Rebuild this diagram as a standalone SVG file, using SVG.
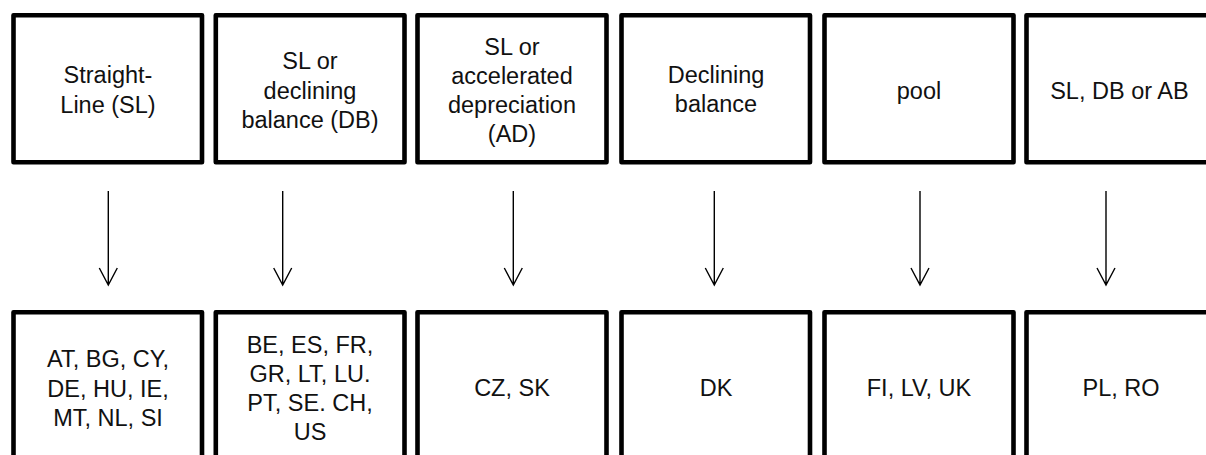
<svg xmlns="http://www.w3.org/2000/svg" width="1206" height="455" viewBox="0 0 1206 455">
<style>
.box{fill:#fff;stroke:#000;stroke-width:4.6;stroke-linejoin:round}
.t{font-family:"Liberation Sans",Arial,sans-serif;font-size:23.5px;fill:#111;text-anchor:middle}
.c{stroke:#000;stroke-width:1.4;fill:none}
</style>
<rect width="1206" height="455" fill="#fff"/>
<g id="top1"><rect class="box" x="13.5" y="15.3" width="188.5" height="147"/><text class="t" x="108" y="83.3">Straight-</text><text class="t" x="108" y="113.3">Line (SL)</text></g>
<g id="top2"><rect class="box" x="215.8" y="15.3" width="188.7" height="147"/><text class="t" x="310" y="69.3">SL or</text><text class="t" x="310" y="99">declining</text><text class="t" x="310" y="128.3">balance (DB)</text></g>
<g id="top3"><rect class="box" x="417.5" y="15.3" width="189" height="147"/><text class="t" x="512" y="55">SL or</text><text class="t" x="512" y="83.8">accelerated</text><text class="t" x="512" y="112.7">depreciation</text><text class="t" x="512" y="141.7">(AD)</text></g>
<g id="top4"><rect class="box" x="621.5" y="15.3" width="188.5" height="147"/><text class="t" x="716" y="83.3">Declining</text><text class="t" x="716" y="112.3">balance</text></g>
<g id="top5"><rect class="box" x="824.5" y="15.3" width="189" height="147"/><text class="t" x="919" y="99.3">pool</text></g>
<g id="top6"><rect class="box" x="1026.5" y="15.3" width="200" height="147"/><text class="t" x="1119.4" y="99.3">SL, DB or AB</text></g>
<g id="bot1"><rect class="box" x="13.5" y="312.3" width="188.5" height="160"/><text class="t" x="108" y="367.3">AT, BG, CY,</text><text class="t" x="108" y="396.7">DE, HU, IE,</text><text class="t" x="108" y="425.7">MT, NL, SI</text></g>
<g id="bot2"><rect class="box" x="215.8" y="312.3" width="188.7" height="160"/><text class="t" x="310" y="352.7">BE, ES, FR,</text><text class="t" x="310" y="381.7">GR, LT, LU.</text><text class="t" x="310" y="410.7">PT, SE. CH,</text><text class="t" x="310" y="439.5">US</text></g>
<g id="bot3"><rect class="box" x="417.5" y="312.3" width="189" height="160"/><text class="t" x="512" y="396">CZ, SK</text></g>
<g id="bot4"><rect class="box" x="621.5" y="312.3" width="188.5" height="160"/><text class="t" x="716" y="396">DK</text></g>
<g id="bot5"><rect class="box" x="824.5" y="312.3" width="189" height="160"/><text class="t" x="919" y="396">FI, LV, UK</text></g>
<g id="bot6"><rect class="box" x="1026.5" y="312.3" width="200" height="160"/><text class="t" x="1121" y="396">PL, RO</text></g>
<g id="connectors">
<path class="c" d="M108.3 191V285M99.3 268L108.3 285L117.3 268"/>
<path class="c" d="M282.7 191V285M273.7 268L282.7 285L291.7 268"/>
<path class="c" d="M513.3 191V285M504.3 268L513.3 285L522.3 268"/>
<path class="c" d="M714.3 191V285M705.3 268L714.3 285L723.3 268"/>
<path class="c" d="M920 191V285M911 268L920 285L929 268"/>
<path class="c" d="M1106 191V285M1097 268L1106 285L1115 268"/>
</g>
</svg>
